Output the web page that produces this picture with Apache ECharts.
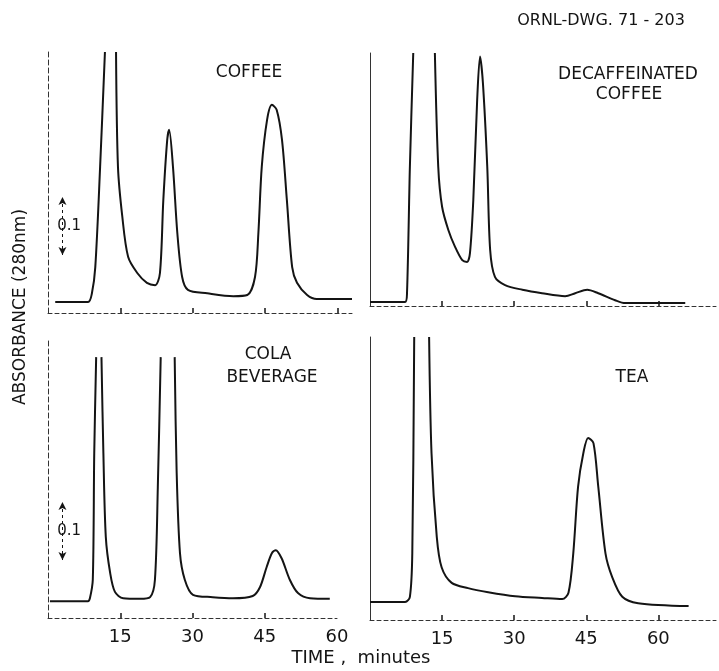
<!DOCTYPE html>
<html>
<head>
<meta charset="utf-8">
<script src="https://cdn.jsdelivr.net/npm/echarts@6/dist/echarts.min.js"></script>
<style>
  html, body { margin: 0; padding: 0; background: #fff; }
  #chart { width: 719px; height: 671px; }
</style>
</head>
<body>
<div id="chart"></div>
<script>
// retention time (minutes) vs absorbance
// null = pen went off scale at the top
const coffee = [
  [1.5, 0.019], [8.3, 0.019], [9.1, 0.034], [9.8, 0.079], [10.8, 0.252], [11.8, 0.45], null,
  [14.1, 0.45], [14.5, 0.252], [15.4, 0.166], [16.6, 0.097], [18.5, 0.069], [20.5, 0.052],
  [22.2, 0.048], [23.2, 0.069], [23.9, 0.195], [24.7, 0.298], [25.1, 0.316], [25.9, 0.252],
  [26.8, 0.138], [27.8, 0.062], [29.0, 0.040], [33.0, 0.034], [38.4, 0.029], [41.3, 0.031],
  [42.9, 0.062], [43.6, 0.138], [44.3, 0.252], [45.4, 0.333], [46.4, 0.359], [47.4, 0.350],
  [48.5, 0.298], [49.5, 0.195], [50.6, 0.079], [51.6, 0.052], [53.7, 0.031], [55.7, 0.024],
  [63.0, 0.024]
];
const decaf = [
  [0, 0.007], [7.3, 0.007], [7.7, 0.022], [8.3, 0.24], [9.0, 0.436], null,
  [13.5, 0.436], [14.2, 0.24], [15.0, 0.171], [16.3, 0.131], [17.7, 0.102], [19.2, 0.079],
  [20.2, 0.076], [20.8, 0.091], [21.5, 0.183], [22.3, 0.355], [22.9, 0.43], [23.5, 0.384],
  [24.4, 0.24], [25.0, 0.097], [26.0, 0.050], [28.1, 0.036], [31.7, 0.028], [35.8, 0.022],
  [40.6, 0.017], [42.7, 0.022], [45.2, 0.028], [47.5, 0.022], [51.0, 0.010], [53.1, 0.005],
  [65.6, 0.005]
];
const cola = [
  [0.4, 0.029], [8.3, 0.029], [8.7, 0.034], [9.3, 0.066], [9.6, 0.284], [10.0, 0.45], null,
  [11.1, 0.45], [11.5, 0.284], [12.0, 0.140], [12.9, 0.078], [13.9, 0.045], [15.6, 0.034],
  [19.1, 0.033], [21.2, 0.036], [22.2, 0.066], [22.8, 0.226], [23.4, 0.45], null,
  [26.3, 0.45], [26.7, 0.255], [27.4, 0.112], [28.4, 0.066], [30.1, 0.040], [34.2, 0.036],
  [38.4, 0.034], [42.5, 0.038], [44.0, 0.053], [45.4, 0.088], [46.5, 0.112], [47.3, 0.117],
  [48.5, 0.103], [50.2, 0.066], [51.9, 0.043], [54.4, 0.034], [58.5, 0.033]
];
const tea = [
  [0, 0.031], [7.3, 0.031], [8.3, 0.040], [8.8, 0.115], [9.2, 0.488], null,
  [12.3, 0.488], [12.8, 0.288], [13.9, 0.143], [14.9, 0.091], [17.0, 0.064], [20.4, 0.055],
  [24.6, 0.048], [30.2, 0.041], [35.8, 0.038], [40.0, 0.036], [41.3, 0.047], [42.3, 0.115],
  [43.3, 0.230], [44.4, 0.288], [45.4, 0.314], [46.5, 0.305], [47.5, 0.230], [49.0, 0.115],
  [50.4, 0.074], [52.5, 0.040], [55.8, 0.029], [66.3, 0.024]
];
const traces = [coffee, decaf, cola, tea];
const panelNames = [['COFFEE'], ['DECAFFEINATED', 'COFFEE'], ['COLA', 'BEVERAGE'], ['TEA']];
const timeTicks = [15, 30, 45, 60];
const scaleBar = [0.1, 0.2];   // 0.1 absorbance unit

// panel layout: grid box in px and axis ranges
const panels = [
  { left: 48, top: 52, width: 304, height: 261, xMax: 63, yMax: 0.45, labels: false, solidY: false },
  { left: 370, top: 53, width: 346, height: 253, xMax: 72, yMax: 0.436, labels: false, solidY: true },
  { left: 48, top: 338, width: 289, height: 280, xMax: 60, yMax: 0.483, labels: true, solidY: false },
  { left: 370, top: 337, width: 346, height: 283, xMax: 72, yMax: 0.488, labels: true, solidY: true }
];

const ink = '#141414';
const font = 'DejaVu Sans';

const chart = echarts.init(document.getElementById('chart'));

const grids = panels.map(p => ({ left: p.left, top: p.top, width: p.width, height: p.height }));

const xAxes = panels.map((p, i) => ({
  gridIndex: i,
  type: 'value',
  min: 0,
  max: p.xMax,
  interval: 15,
  axisLine: { show: true, lineStyle: { color: '#333', width: 1, type: [4, 3] } },
  axisTick: { show: true, inside: true, length: 5, lineStyle: { color: ink, width: 1.5 },
    customValues: timeTicks.filter(v => v < p.xMax) },
  axisLabel: {
    show: p.labels,
    customValues: timeTicks,
    fontFamily: font, fontSize: 18, color: ink, margin: 10
  },
  splitLine: { show: false }
}));

const yAxes = panels.map((p, i) => ({
  gridIndex: i,
  type: 'value',
  min: 0,
  max: p.yMax,
  axisLine: { show: true, lineStyle: { color: '#333', width: 1, type: p.solidY ? 'solid' : [5, 3] } },
  axisTick: { show: false },
  axisLabel: { show: false },
  splitLine: { show: false }
}));

const series = traces.map((d, i) => {
  const s = {
    type: 'line',
    xAxisIndex: i,
    yAxisIndex: i,
    data: d,
    showSymbol: false,
    smooth: 0.3,
    connectNulls: false,
    lineStyle: { color: ink, width: 2 },
    silent: true
  };
  if (i === 0 || i === 2) {
    s.markLine = {
      silent: true,
      symbol: ['arrow', 'arrow'],
      symbolSize: [6, 8],
      lineStyle: { color: ink, width: 1, type: [3, 3] },
      itemStyle: { color: ink },
      label: { show: false },
      data: [[{ coord: [3, scaleBar[0]] }, { coord: [3, scaleBar[1]] }]]
    };
    s.markPoint = {
      silent: true,
      symbol: 'circle',
      symbolSize: 1,
      itemStyle: { color: 'rgba(0,0,0,0)' },
      label: { show: true, position: 'inside', formatter: '0.1', color: ink, fontFamily: font, fontSize: 15 },
      data: [{ coord: [4.4, (scaleBar[0] + scaleBar[1]) / 2] }]
    };
  }
  return s;
});

const textStyle = { fill: ink, fontFamily: font, fontSize: 14, textAlign: 'center', textVerticalAlign: 'middle' };
const nameSpots = [[[249, 73]], [[628, 75], [629, 95]], [[268, 355], [272, 378]], [[632, 378]]];
const graphic = [];
panelNames.forEach((lines, i) => {
  lines.forEach((t, j) => {
    graphic.push({ type: 'text', x: nameSpots[i][j][0], y: nameSpots[i][j][1], silent: true,
      style: Object.assign({}, textStyle, { text: t, fontSize: 17 }) });
  });
});
graphic.push({ type: 'text', x: 601, y: 21, silent: true,
  style: Object.assign({}, textStyle, { text: 'ORNL-DWG. 71 - 203', fontSize: 16 }) });
graphic.push({ type: 'text', x: 21, y: 307, rotation: Math.PI / 2, silent: true,
  style: Object.assign({}, textStyle, { text: 'ABSORBANCE (280nm)', fontSize: 17 }) });
graphic.push({ type: 'text', x: 361, y: 658, silent: true,
  style: Object.assign({}, textStyle, { text: 'TIME ,  minutes', fontSize: 18 }) });

chart.setOption({
  animation: false,
  backgroundColor: '#fff',
  grid: grids,
  xAxis: xAxes,
  yAxis: yAxes,
  series: series,
  graphic: graphic
});
</script>
</body>
</html>
